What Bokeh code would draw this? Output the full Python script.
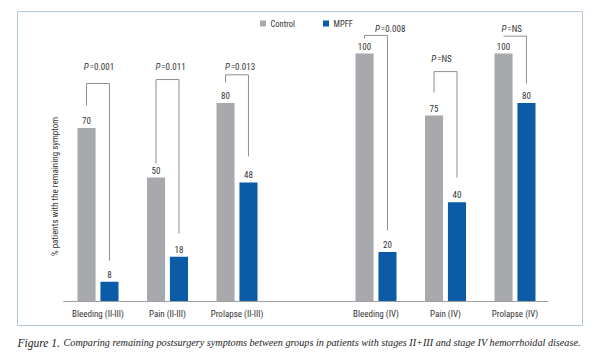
import math
from bokeh.plotting import figure
from bokeh.models import Range1d
from bokeh.core.properties import value
from bokeh.embed import file_html
from bokeh.resources import INLINE

# ---- data ----
categories = ["Bleeding (II-III)", "Pain (II-III)", "Prolapse (II-III)",
              "Bleeding (IV)", "Pain (IV)", "Prolapse (IV)"]
group_pos = [0, 1, 2, 4, 5, 6]
control = [70, 50, 80, 100, 75, 100]
mpff = [8, 18, 48, 20, 40, 80]
p_values = ["=0.001", "=0.011", "=0.013", "=0.008", "=NS", "=NS"]
p_label_y = [94.4, 94.4, 94.4, 110, 97.6, 110]
p_label_dx = [-0.12, -0.09, -0.09, 0.07, -0.12, -0.11]
bracket_top = [87.9, 89.5, 91.4, 107.3, 92.7, 107.0]
bracket_left_end = [79, 55.6, 88.3, 106, 84.3, 107.0]
bracket_right_end = [16.5, 27.4, 58.5, 28.6, 50, 87.9]

GRAY = "#a7a9ac"
BLUE = "#0b5ba7"
LINE = "#8e8e8e"
FONT = value("Liberation Sans Narrow, Roboto Condensed, Arial Narrow, sans-serif")
FS = "9px"

W, H = 600, 353
# pixel mapping: px = X0 + SX*u ; py = Y0 - SY*v
X0, SX = 97.5, 69.5
Y0, SY = 301.0, 2.48
def ux(px):
    return (px - X0) / SX
def vy(py):
    return (Y0 - py) / SY

p = figure(width=W, height=H, output_backend="svg", toolbar_location=None,
           x_range=Range1d(ux(0), ux(W)), y_range=Range1d(vy(H), vy(0)),
           min_border=0, min_border_left=0, min_border_right=0,
           min_border_top=0, min_border_bottom=0)
p.axis.visible = False
p.grid.visible = False
p.outline_line_color = None
p.background_fill_color = "white"
p.border_fill_color = "white"

# outer border box
p.quad(left=ux(17), right=ux(582), bottom=vy(325), top=vy(11),
       fill_color=None, line_color="#b2c6d6", line_width=1)

off = 0.165
bw = 0.26
cx = [g - off for g in group_pos]
mx = [g + off for g in group_pos]

p.vbar(x=cx, top=control, bottom=0, width=bw, fill_color=GRAY, line_color=None)
p.vbar(x=mx, top=mpff, bottom=0, width=bw, fill_color=BLUE, line_color=None)

# baseline
p.segment(x0=[-0.5], y0=[0], x1=[6.48], y1=[0], line_color="#a0a0a0", line_width=1)

# value labels
p.text(x=cx, y=control, text=[str(v) for v in control], text_align="center",
       text_baseline="bottom", y_offset=-4, text_font=FONT, text_font_size=FS,
       text_color="#333333")
p.text(x=mx, y=mpff, text=[str(v) for v in mpff], text_align="center",
       text_baseline="bottom", y_offset=-4, text_font=FONT, text_font_size=FS,
       text_color="#333333")

# brackets
xs = [[a, a, b, b] for a, b in zip(cx, mx)]
ys = [[le, t, t, re] for le, t, re in zip(bracket_left_end, bracket_top, bracket_right_end)]
p.multi_line(xs=xs, ys=ys, line_color=LINE, line_width=1)

# P labels
px_ = [g + d for g, d in zip(group_pos, p_label_dx)]
p.text(x=px_, y=p_label_y, text=["P"] * len(px_), text_align="right",
       text_baseline="middle", text_font=FONT, text_font_style="italic",
       text_font_size=FS, text_color="#333333", x_offset=-1)
p.text(x=px_, y=p_label_y, text=p_values, text_align="left",
       text_baseline="middle", text_font=FONT, text_font_size=FS,
       text_color="#333333")

# category labels
p.text(x=group_pos, y=[vy(313)] * len(group_pos), text=categories, text_align="center",
       text_baseline="middle", text_font=FONT, text_font_size=FS,
       text_color="#333333")

# y label
p.text(x=[ux(54)], y=[vy(186)], text=["% patients with the remaining symptom"],
       angle=math.pi / 2, text_align="center", text_baseline="middle",
       text_font=FONT, text_font_size=FS, text_color="#333333")

# legend
p.scatter(x=[ux(262.5), ux(325.5)], y=[vy(23)] * 2, marker="square", size=6,
          fill_color=[GRAY, BLUE], line_color=None)
p.text(x=[ux(270), ux(333)], y=[vy(23)] * 2, text=["Control", "MPFF"],
       text_align="left", text_baseline="middle", text_font=FONT,
       text_font_size="8.5px", text_color="#333333")

# caption
p.text(x=[ux(17)], y=[vy(342)], text=["Figure 1."], text_align="left",
       text_baseline="middle", text_font=value("Liberation Serif"),
       text_font_style="italic", text_font_size="11.5px", text_color="#222222")
p.text(x=[ux(63)], y=[vy(342)],
       text=["Comparing remaining postsurgery symptoms between groups in patients with stages II+III and stage IV hemorrhoidal disease."],
       text_align="left", text_baseline="middle", text_font=value("Liberation Serif"),
       text_font_style="italic", text_font_size="10.2px", text_color="#222222")

open("out.html", "w").write(file_html(p, INLINE))
